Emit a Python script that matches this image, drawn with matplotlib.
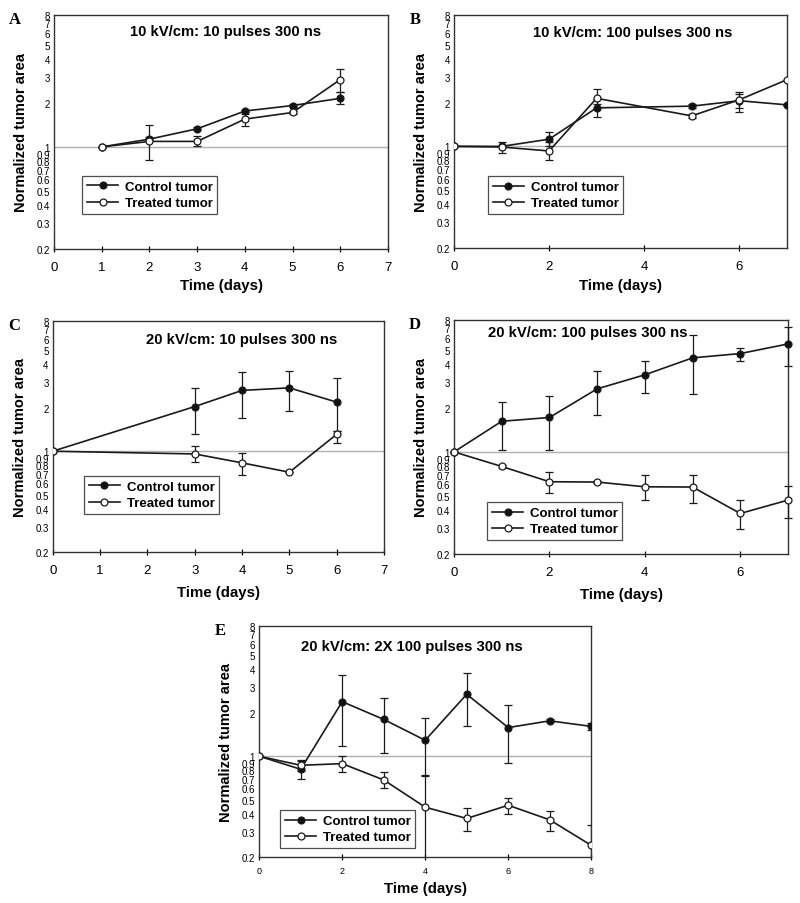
import numpy as np
import matplotlib
matplotlib.use("Agg")
from matplotlib import pyplot as plt

plt.rcParams['font.family'] = ['Liberation Sans', 'DejaVu Sans']

# panel A: 10 kV/cm, 10 pulses
a_days = [1, 2, 3, 4, 5, 6]
a_ctrl = [1.0, 1.13, 1.33, 1.76, 1.92, 2.15]
a_ctrl_lo = [1.0, 1.10, 1.30, 1.72, 1.88, 1.97]
a_ctrl_hi = [1.0, 1.16, 1.36, 1.80, 1.96, 2.36]
a_trt = [1.0, 1.09, 1.09, 1.55, 1.72, 2.89]
a_trt_lo = [1.0, 0.81, 1.01, 1.38, 1.69, 2.36]
a_trt_hi = [1.0, 1.42, 1.18, 1.68, 1.75, 3.43]

# panel B: 10 kV/cm, 100 pulses
b_days = [0, 1, 2, 3, 5, 6, 7]
b_ctrl = [1.0, 1.0, 1.12, 1.84, 1.89, 2.06, 1.93]
b_ctrl_lo = [1.0, 1.0, 1.0, 1.59, 1.83, 1.72, 1.93]
b_ctrl_hi = [1.0, 1.0, 1.26, 2.10, 1.95, 2.30, 1.93]
b_trt = [1.0, 0.99, 0.93, 2.14, 1.62, 2.09, 2.87]
b_trt_lo = [1.0, 0.905, 0.81, 1.95, 1.57, 1.85, 2.87]
b_trt_hi = [1.0, 1.07, 1.07, 2.49, 1.68, 2.36, 2.87]

# panel C: 20 kV/cm, 10 pulses
c_days = [0, 3, 4, 5, 6]
c_ctrl = [1.0, 2.04, 2.64, 2.75, 2.19]
c_ctrl_lo = [1.0, 1.32, 1.70, 1.91, 1.37]
c_ctrl_hi = [1.0, 2.74, 3.57, 3.61, 3.23]
c_trt = [1.0, 0.957, 0.83, 0.715, 1.31]
c_trt_lo = [1.0, 0.842, 0.685, 0.715, 1.14]
c_trt_hi = [1.0, 1.08, 0.967, 0.715, 1.37]

# panel D: 20 kV/cm, 100 pulses
d_days = [0, 1, 2, 3, 4, 5, 6, 7]
d_ctrl = [1.0, 1.62, 1.72, 2.70, 3.37, 4.40, 4.71, 5.48]
d_ctrl_lo = [1.0, 1.03, 1.03, 1.78, 2.54, 2.48, 4.17, 3.88]
d_ctrl_hi = [1.0, 2.21, 2.41, 3.58, 4.17, 6.32, 5.15, 7.17]
d_trt = [1.0, 0.795, 0.625, 0.622, 0.577, 0.575, 0.379, 0.468]
d_trt_lo = [1.0, 0.78, 0.52, 0.61, 0.466, 0.446, 0.296, 0.351]
d_trt_hi = [1.0, 0.81, 0.727, 0.635, 0.69, 0.70, 0.466, 0.586]

# panel E: 20 kV/cm, 2X 100 pulses
e_days = [0, 1, 2, 3, 4, 5, 6, 7, 8]
e_ctrl = [1.0, 0.812, 2.39, 1.80, 1.29, 2.69, 1.58, 1.76, 1.61]
e_ctrl_lo = [1.0, 0.692, 1.18, 1.06, 0.74, 1.63, 0.898, 1.72, 1.51]
e_ctrl_hi = [1.0, 0.932, 3.63, 2.53, 1.83, 3.76, 2.25, 1.80, 1.69]
e_trt = [1.0, 0.865, 0.888, 0.685, 0.443, 0.370, 0.457, 0.362, 0.241]
e_trt_lo = [1.0, 0.795, 0.774, 0.603, 0.1, 0.303, 0.397, 0.303, 0.1]
e_trt_hi = [1.0, 0.94, 1.01, 0.774, 0.73, 0.436, 0.517, 0.42, 0.331]

y_ticks = [0.2, 0.3, 0.4, 0.5, 0.6, 0.7, 0.8, 0.9, 1, 2, 3, 4, 5, 6, 7, 8]
y_labels = ["0.2", "0.3", "0.4", "0.5", "0.6", "0.7", "0.8", "0.9",
            "1", "2", "3", "4", "5", "6", "7", "8"]


def series(ax, days, val, lo, hi, face, clip):
    val = np.array(val)
    err = [val - np.array(lo), np.array(hi) - val]
    ax.errorbar(days, val, yerr=err, color="#1a1a1a", lw=1.2, ecolor="#1a1a1a",
                elinewidth=0.9, capsize=3, capthick=0.9, marker="o", ms=5,
                mfc=face, mec="#1a1a1a", mew=0.9, clip_on=clip, zorder=3)
    h, = ax.plot([], [], color="#1a1a1a", lw=1.2, marker="o", ms=5,
                 mfc=face, mec="#1a1a1a", mew=0.9)
    return h


def panel(ax, letter, title, tpos, days, ctrl, clo, chi, trt, tlo, thi,
          xmax, xstep, leg, xlab_y, xfont=9.5, xpad=6, clip=True):
    ax.axhline(1, color="#b0b0b0", lw=1, zorder=1)
    h1 = series(ax, days, ctrl, clo, chi, "#111111", clip)
    h2 = series(ax, days, trt, tlo, thi, "white", clip)
    ax.set_yscale("log")
    ax.set_ylim(0.2, 8)
    ax.set_xlim(0, xmax)
    ax.set_yticks(y_ticks)
    ax.set_yticklabels(y_labels)
    ax.minorticks_off()
    ax.set_xticks(np.arange(0, xmax + 0.1, xstep))
    ax.tick_params(axis="y", length=0, labelsize=7, pad=3)
    ax.tick_params(axis="x", direction="inout", length=5, width=0.9,
                   labelsize=xfont, pad=xpad)
    for s in ax.spines.values():
        s.set_linewidth(1.0)
        s.set_color("#333333")
    ax.text(tpos[0], tpos[1], title, transform=ax.transAxes, ha="center",
            va="center", fontsize=10.7, fontweight="bold")
    ax.set_xlabel("Time (days)", fontsize=10.8, fontweight="bold")
    ax.set_ylabel("Normalized tumor area", fontsize=10.5, fontweight="bold")
    ax.xaxis.set_label_coords(0.5, xlab_y)
    ax.yaxis.set_label_coords(-0.078, 0.5)
    lg = ax.legend([h1, h2], ["Control tumor", "Treated tumor"],
                   loc="lower left", bbox_to_anchor=leg, borderaxespad=0,
                   fancybox=False, edgecolor="#222222", handlelength=2.4,
                   prop={"weight": "bold", "size": 9.5},
                   borderpad=0.35, labelspacing=0.3, handletextpad=0.5)
    lg.get_frame().set_linewidth(0.9)
    bb = ax.get_position()
    fig.text(bb.x0 - 0.0675 + 0.019, bb.y1 - 0.004, letter,
             family="Liberation Serif", fontsize=12, fontweight="bold",
             ha="center", va="center")


fig = plt.figure(figsize=(8, 9.04), dpi=100)
axA = fig.add_axes([0.0675, 0.7235, 0.4175, 0.2588])
axB = fig.add_axes([0.5675, 0.7245, 0.416, 0.2578])
axC = fig.add_axes([0.066, 0.3883, 0.414, 0.2555])
axD = fig.add_axes([0.5675, 0.386, 0.4175, 0.259])
axE = fig.add_axes([0.324, 0.0509, 0.415, 0.2555])

panel(axA, "A", "10 kV/cm: 10 pulses 300 ns", (0.515, 0.93),
      a_days, a_ctrl, a_ctrl_lo, a_ctrl_hi, a_trt, a_trt_lo, a_trt_hi,
      7, 1, (0.084, 0.15), -0.124)
panel(axB, "B", "10 kV/cm: 100 pulses 300 ns", (0.538, 0.927),
      b_days, b_ctrl, b_ctrl_lo, b_ctrl_hi, b_trt, b_trt_lo, b_trt_hi,
      7, 2, (0.102, 0.146), -0.128)
panel(axC, "C", "20 kV/cm: 10 pulses 300 ns", (0.57, 0.92),
      c_days, c_ctrl, c_ctrl_lo, c_ctrl_hi, c_trt, c_trt_lo, c_trt_hi,
      7, 1, (0.094, 0.165), -0.143)
panel(axD, "D", "20 kV/cm: 100 pulses 300 ns", (0.40, 0.95),
      d_days, d_ctrl, d_ctrl_lo, d_ctrl_hi, d_trt, d_trt_lo, d_trt_hi,
      7, 2, (0.099, 0.06), -0.14, clip=False)
panel(axE, "E", "20 kV/cm: 2X 100 pulses 300 ns", (0.46, 0.913),
      e_days, e_ctrl, e_ctrl_lo, e_ctrl_hi, e_trt, e_trt_lo, e_trt_hi,
      8, 2, (0.063, 0.039), -0.104, xfont=6.5, xpad=4)

fig.savefig("out.png", dpi=100)
